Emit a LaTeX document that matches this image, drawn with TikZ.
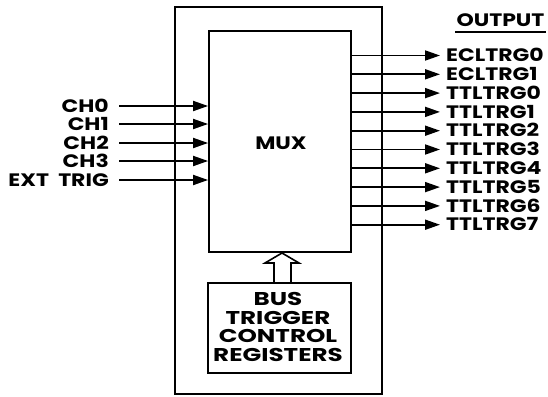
\documentclass[tikz,border=0pt]{standalone}
\usepackage{fontspec}
\setmainfont{Poppins}
\newfontfamily\agfont[FakeStretch=1.22]{Poppins}
\newfontfamily\agwide[FakeStretch=1.33]{Poppins}
\usetikzlibrary{arrows.meta}
\begin{document}
\begin{tikzpicture}[x=1pt,y=-1pt,
  box/.style={draw,line width=1.8pt,inner sep=0pt},
  lbl/.style={font=\agfont\fontsize{18}{19}\selectfont\bfseries,inner sep=0pt,text height=12.5pt,text depth=0pt},
  sig/.style={line width=1.8pt,-{Triangle[length=15pt,width=10pt]}}]
\useasboundingbox (0,0) rectangle (548,396);
\node[box,minimum width=207pt,minimum height=387pt] (outer) at (278.5,200.5) {};
\node[box,minimum width=142pt,minimum height=221pt] (mux) at (280,141.5) {};
\node[lbl] (muxt) at (281,143) {MUX};
\node[box,minimum width=143pt,minimum height=90pt] (bus) at (279.5,328) {};
\node[inner sep=0pt,align=center,font=\agwide\fontsize{18.5}{18.5}\selectfont\bfseries] (bust) at (278,327) {BUS\\TRIGGER\\CONTROL\\REGISTERS};
% hollow arrow
\draw[line width=1.6pt] (274,283) coordinate (ha) -- (274,263) -- (265,263) -- (282,253) coordinate (hb) -- (299,263) -- (291,263) -- (291,283);
% inputs
\foreach \n/\t/\y in {i0/CH0/106,i1/CH1/124,i2/CH2/143,i3/CH3/161,i4/EXT\ \ TRIG/180}{
  \node[lbl,anchor=east] (\n) at (109,\y) {\t};
  \coordinate (\n s) at (119,\y);
  \draw[sig] (\n s) -- (\n s -| mux.west);
}
% outputs
\foreach \n/\t [count=\i from 0] in {o0/ECLTRG0,o1/ECLTRG1,o2/TTLTRG0,o3/TTLTRG1,o4/TTLTRG2,o5/TTLTRG3,o6/TTLTRG4,o7/TTLTRG5,o8/TTLTRG6,o9/TTLTRG7}{
  \pgfmathsetmacro{\y}{55.5+\i*18.8}
  \coordinate (\n e) at (440,\y);
  \node[lbl,anchor=west] (\n) at (446,\y) {\t};
  \draw[sig] (\n e -| mux.east) -- (\n e);
}
\node[lbl,anchor=base] (out) at (500.5,26.5) {OUTPUT};
\draw[line width=1.4pt] (455,32) coordinate (u1) -- (546,32) coordinate (u2);
\end{tikzpicture}
\end{document}
